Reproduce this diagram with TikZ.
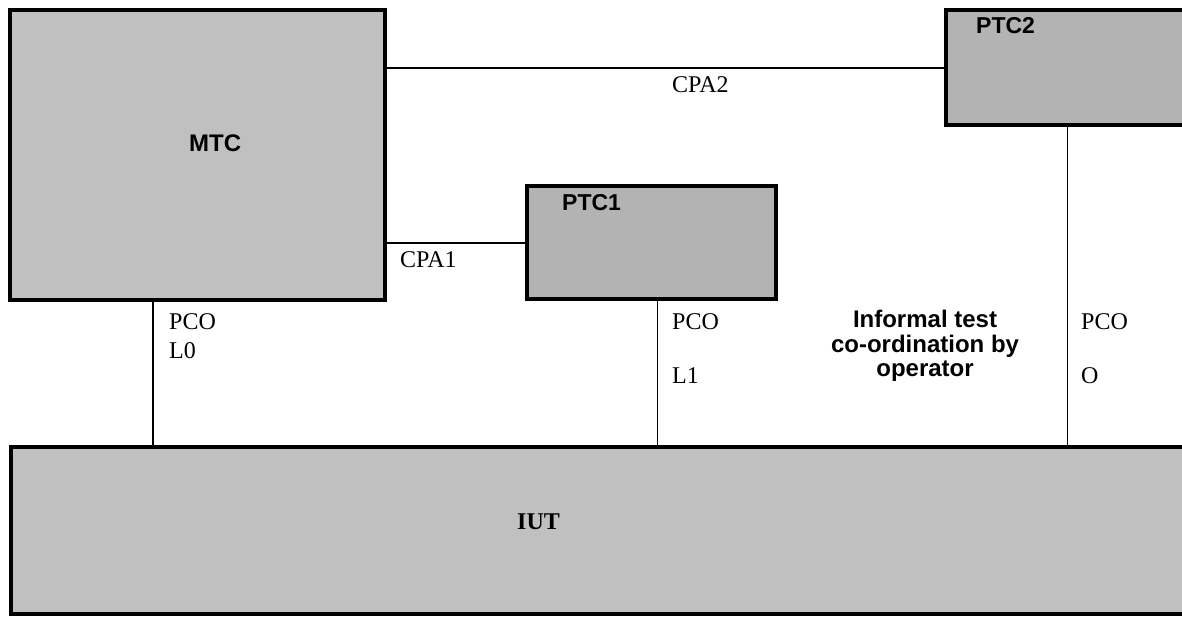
\documentclass[tikz,border=0pt]{standalone}
\usepackage{fontspec}
\setmainfont{Liberation Serif}
\newfontfamily\arialfont{Liberation Sans}
\definecolor{boxgrayA}{HTML}{C0C0C0}
\definecolor{boxgrayB}{HTML}{B3B3B3}
\begin{document}
\begin{tikzpicture}[x=1pt,y=-1pt,
  box/.style={draw=black, line width=4pt, rectangle, inner sep=0pt, anchor=north west},
  wire/.style={draw=black, line width=1.7pt},
  sflabel/.style={font=\arialfont\bfseries\fontsize{24}{24.5}\selectfont, inner sep=0pt, anchor=base west},
  rmlabel/.style={font=\fontsize{24}{24.5}\selectfont, inner sep=0pt, anchor=base west}]
\useasboundingbox (0,0) rectangle (1182,617);
\clip (0,0) rectangle (1182,617);
\fill[white] (0,0) rectangle (1182,617);
% boxes
\node[box, fill=boxgrayA, minimum width=375pt, minimum height=290pt] (MTC) at (8,8) {};
\node[box, fill=boxgrayB, minimum width=249pt, minimum height=113pt] (PTC1) at (525,184) {};
\node[box, fill=boxgrayB, minimum width=304pt, minimum height=115pt] (PTC2) at (944,8) {};
\node[box, fill=boxgrayA, minimum width=1239pt, minimum height=167pt] (IUT) at (9,445) {};
% box labels
\node[sflabel] (mtclab) at (189,152) {MTC};
\node[sflabel, font=\arialfont\bfseries\fontsize{23}{24}\selectfont] (ptc1lab) at (562,211) {PTC1};
\node[sflabel, font=\arialfont\bfseries\fontsize{23}{24}\selectfont] (ptc2lab) at (976,34) {PTC2};
\node[rmlabel, font=\bfseries\fontsize{24}{24.5}\selectfont] (iutlab) at (517,529) {IUT};
% connector helper coordinates
\coordinate (cpa2y) at (0,68);
\coordinate (cpa1y) at (0,243);
\coordinate (l0x) at (153,0);
\coordinate (l1x) at (657.5,0);
\coordinate (ox) at (1067.5,0);
% connectors
\draw[wire] (MTC.east |- cpa2y) -- (PTC2.west |- cpa2y);
\draw[wire] (MTC.east |- cpa1y) -- (PTC1.west |- cpa1y);
\draw[wire] (MTC.south -| l0x) -- (IUT.north -| l0x);
\draw[wire] (PTC1.south -| l1x) -- (IUT.north -| l1x);
\draw[wire] (PTC2.south -| ox) -- (IUT.north -| ox);
% connector labels
\node[rmlabel] (cpa2lab) at (672,93) {CPA2};
\node[rmlabel] (cpa1lab) at (400,268) {CPA1};
\node[rmlabel] (pco0) at (169,329) {PCO};
\node[rmlabel] (l0lab) at (169,358) {L0};
\node[rmlabel] (pco1) at (672,329) {PCO};
\node[rmlabel] (l1lab) at (672,383) {L1};
\node[rmlabel] (pco2) at (1081,329) {PCO};
\node[rmlabel] (olab) at (1081,383) {O};
\node[font=\arialfont\bfseries\fontsize{24}{24.5}\selectfont, align=center, inner sep=0pt, anchor=center] (informal) at (925,346) {Informal test\\co-ordination by\\operator};
\end{tikzpicture}
\end{document}
